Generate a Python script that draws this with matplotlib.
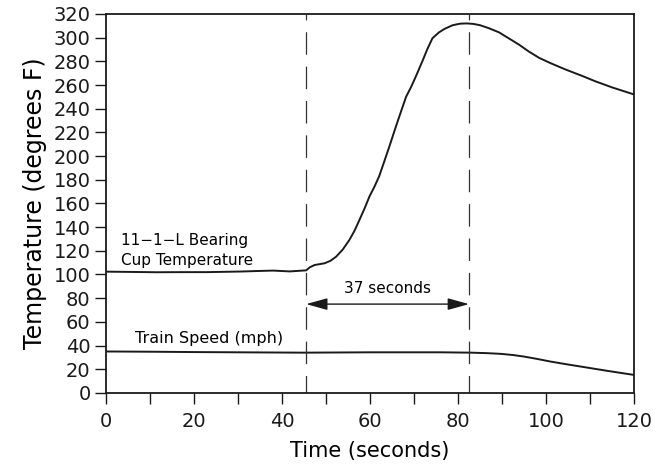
import matplotlib
matplotlib.use("Agg")
import matplotlib.pyplot as plt

# Bearing cup temperature (deg F)
temp_t = [0, 5, 11.5, 17, 23, 30.5, 35, 38, 41.8, 45.5, 46.3, 47.4, 48.5, 49.7,
          51, 52.3, 53.8, 55.3, 56.5, 57.6, 58.8, 59.9, 61, 62.1, 63.3, 64.4,
          65.9, 67, 68.2, 69.3, 70.4, 71.9, 73, 74.2, 75.7, 77, 78.8, 80.5, 82,
          83.5, 85, 87, 89.3, 91.5, 93.9, 96, 98.4, 101, 104.5, 108, 111.3,
          115, 120]
temp_f = [102.4, 102.2, 101.9, 102.0, 102.0, 102.5, 103.0, 103.3, 102.6, 103.5,
          106, 108, 108.7, 109.5, 111.5, 115, 121, 129, 137, 146, 156, 166, 174,
          183, 196, 208, 225, 237, 250, 258, 267, 280, 290, 299.5, 304.5, 307.5,
          310.5, 311.8, 312, 311.6, 310.5, 308, 304.5, 299.5, 294, 288.5, 283,
          278.5, 273, 268, 263, 258, 252]

# Train speed (mph)
speed_t = [0, 10, 20, 30, 45, 60, 76, 83, 86.5, 89.7, 92.5, 95, 98, 101, 104.5,
           108, 111, 114, 117, 120]
speed_v = [35, 34.8, 34.5, 34.3, 34, 34.3, 34.3, 34, 33.6, 33, 32, 30.7, 28.7,
           26.5, 24.3, 22.2, 20.4, 18.6, 16.9, 15.2]

event_start = 45.5
event_end = 82.5
arrow_y = 75

fig = plt.figure(figsize=(6.66, 4.65), dpi=100)
ax = fig.add_axes([0.159, 0.155, 0.793, 0.815])

ax.plot(temp_t, temp_f, color="#1a1a1a", lw=1.4)
ax.plot(speed_t, speed_v, color="#1a1a1a", lw=1.4)

for xv in (event_start, event_end):
    ax.plot([xv, xv], [0, 320], color="#333333", lw=0.9,
            linestyle=(4, (18, 9.5)))

ax.annotate("", xy=(event_start, arrow_y), xytext=(event_end, arrow_y),
            arrowprops=dict(arrowstyle="<|-|>,head_length=0.65,head_width=0.18",
                            color="#1a1a1a", lw=1.0, mutation_scale=20,
                            shrinkA=0, shrinkB=0))
ax.text((event_start + event_end) / 2, 88, "37 seconds", ha="center",
        va="center", fontsize=11)

ax.text(3.4, 129, "11\u22121\u2212L Bearing", ha="left", va="center", fontsize=11)
ax.text(3.4, 112, "Cup Temperature", ha="left", va="center", fontsize=11)
ax.text(6.6, 46, "Train Speed (mph)", ha="left", va="center", fontsize=11.5)

ax.set_xlim(0, 120)
ax.set_ylim(0, 320)
ax.set_xticks(range(0, 121, 20))
ax.set_xticks(range(10, 120, 20), minor=True)
ax.set_yticks(range(0, 321, 20))
ax.tick_params(axis="both", which="both", direction="out", length=8,
               width=1.0, labelsize=14, colors="#1a1a1a")
ax.tick_params(axis="x", pad=6)
ax.tick_params(axis="y", pad=3)
for sp in ax.spines.values():
    sp.set_linewidth(1.3)
    sp.set_color("#1a1a1a")

ax.set_xlabel("Time (seconds)", fontsize=15, labelpad=7)
ax.set_ylabel("Temperature (degrees F)", fontsize=17, labelpad=5)

fig.savefig("out.png", dpi=100)
